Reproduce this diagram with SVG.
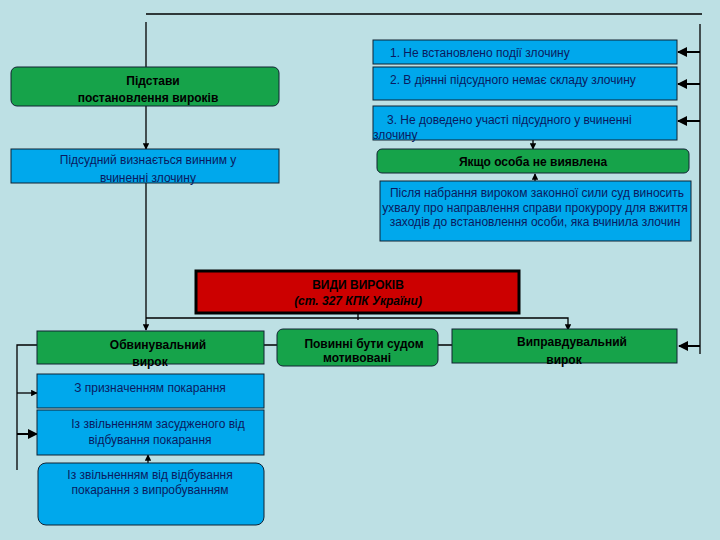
<svg xmlns="http://www.w3.org/2000/svg" width="720" height="540" viewBox="0 0 720 540">
<style>
.b{fill:#00a8ec;stroke:#123;stroke-width:1}
.g{fill:#16a34a;stroke:#123;stroke-width:1}
text{font-family:"Liberation Sans",Arial,sans-serif;font-size:12px;fill:#0a1a60}
.k{fill:#000;font-weight:bold}
.c{stroke:#000;stroke-width:1.3;fill:none}
</style>
<defs><marker id="a" viewBox="0 0 10 10" refX="9" refY="5" markerWidth="5" markerHeight="5" orient="auto"><path d="M0,0L10,5L0,10z" fill="#000"/></marker></defs>
<rect width="720" height="540" fill="#bde0e4"/>
<g id="connectors" class="c">
<path d="M146,14H702"/>
<path d="M146,22V149" marker-end="url(#a)"/>
<path d="M146,183V330" marker-end="url(#a)"/>
<path d="M700,24V354"/>
<path d="M700,52H678" marker-end="url(#a)" stroke-width="2"/>
<path d="M700,84H678" marker-end="url(#a)" stroke-width="2"/>
<path d="M700,121H678" marker-end="url(#a)" stroke-width="2"/>
<path d="M700,346H679" marker-end="url(#a)" stroke-width="2"/>
<path d="M533,140V149" marker-end="url(#a)"/>
<path d="M535,181V174" marker-end="url(#a)"/>
<path d="M358,313V320M146,318H568V330" marker-end="url(#a)"/>
<path d="M264,345H277M438,345H452"/>
<path d="M37,345H17V470"/>
<path d="M17,393H37" marker-end="url(#a)"/>
<path d="M17,434H37" marker-end="url(#a)" stroke-width="2"/>
<path d="M148,463V455" marker-end="url(#a)"/>
</g>
<g id="n1"><rect class="b" x="373" y="40" width="304" height="24"/><text x="390" y="57">1. Не встановлено події злочину</text></g>
<g id="n2"><rect class="b" x="373" y="67" width="304" height="33"/><text x="390" y="84">2. В діянні підсудного немає складу злочину</text></g>
<g id="n3"><rect class="b" x="373" y="106" width="304" height="34"/><text x="387" y="124">3. Не доведено участі підсудного у вчиненні</text><text x="373" y="139">злочину</text></g>
<g id="n4"><rect class="g" x="377" y="149" width="312" height="24" rx="5"/><text class="k" x="533" y="166" text-anchor="middle">Якщо особа не виявлена</text></g>
<g id="n5"><rect class="b" x="380" y="181" width="311" height="60"/><text font-size="10.5" text-anchor="middle"><tspan x="537" y="197">Після набрання вироком законної сили суд виносить</tspan><tspan x="535" y="212">ухвалу про направлення справи прокурору для вжиття</tspan><tspan x="535" y="226">заходів до встановлення особи, яка вчинила злочин</tspan></text></g>
<g id="n6"><rect class="g" x="11" y="67" width="268" height="39" rx="6"/><text class="k" x="153" y="85" text-anchor="middle">Підстави</text><text class="k" x="148" y="102" text-anchor="middle">постановлення вироків</text></g>
<g id="n7"><rect class="b" x="11" y="149" width="268" height="34"/><text x="148" y="164" text-anchor="middle">Підсудний визнається винним у</text><text x="148" y="182" text-anchor="middle">вчиненні злочину</text></g>
<g id="n8"><rect x="196" y="271" width="323" height="42" fill="#cc0000" stroke="#000" stroke-width="3"/><text class="k" x="358" y="289" text-anchor="middle">ВИДИ ВИРОКІВ</text><text class="k" x="358" y="305" text-anchor="middle" font-style="italic">(ст. 327 КПК України)</text></g>
<g id="n9"><rect class="g" x="37" y="331" width="227" height="33"/><text class="k" x="158" y="349" text-anchor="middle">Обвинувальний</text><text class="k" x="150" y="366" text-anchor="middle">вирок</text></g>
<g id="n10"><rect class="g" x="277" y="329" width="161" height="37" rx="6"/><text class="k" x="364" y="348" text-anchor="middle">Повинні бути судом</text><text class="k" x="357" y="362" text-anchor="middle">мотивовані</text></g>
<g id="n11"><rect class="g" x="452" y="329" width="225" height="34"/><text class="k" x="572" y="346" text-anchor="middle" font-family="Liberation Serif,serif">Виправдувальний</text><text class="k" x="564" y="364" text-anchor="middle" font-family="Liberation Serif,serif">вирок</text></g>
<g id="n12"><rect class="b" x="37" y="374" width="227" height="34"/><text x="150" y="392" text-anchor="middle">З призначенням покарання</text></g>
<g id="n13"><rect class="b" x="37" y="410" width="227" height="45"/><text x="158" y="428" text-anchor="middle">Із звільненням засудженого від</text><text x="150" y="444" text-anchor="middle">відбування покарання</text></g>
<g id="n14"><rect class="b" x="38" y="463" width="226" height="62" rx="8"/><text x="150" y="479" text-anchor="middle" font-size="10.5">Із звільненням від відбування</text><text x="150" y="494" text-anchor="middle" font-size="10.5">покарання з випробуванням</text></g>
</svg>
